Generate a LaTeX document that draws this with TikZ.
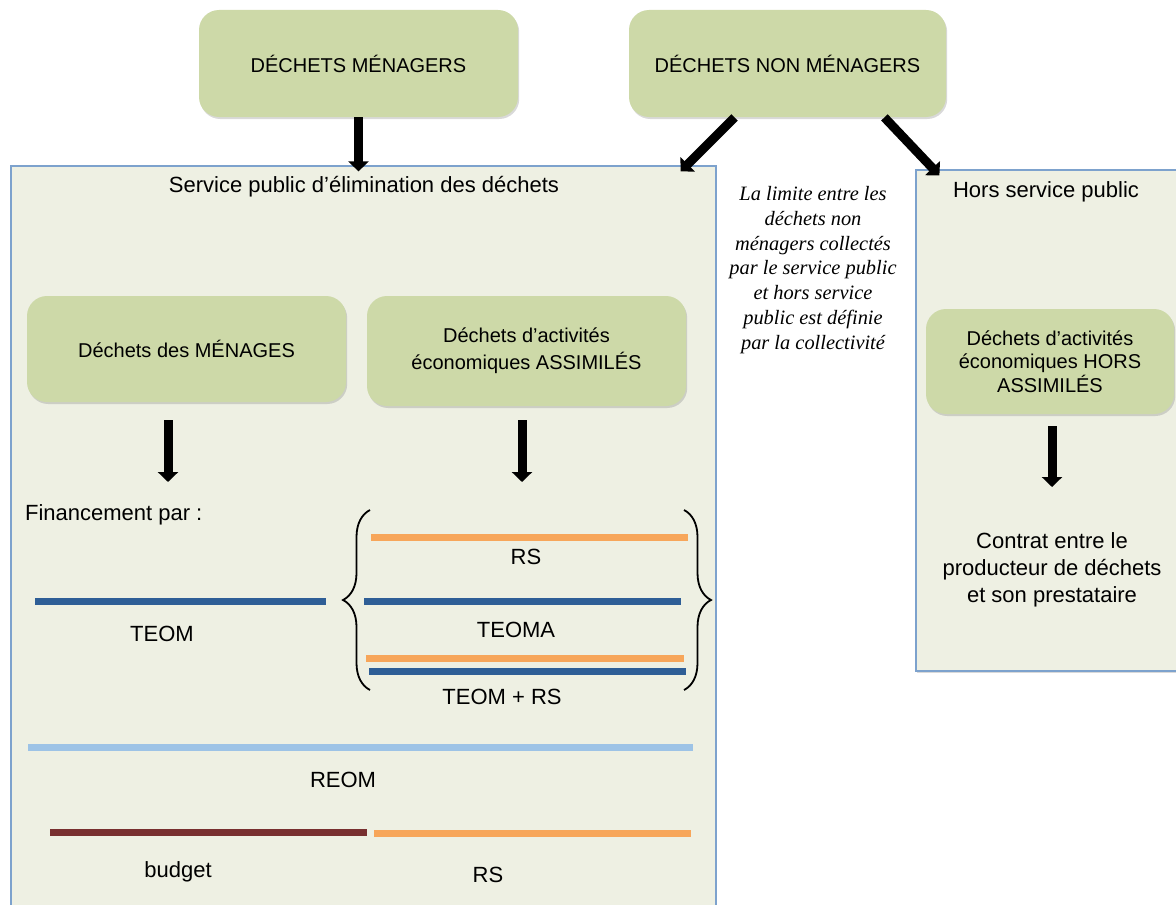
\documentclass[tikz,border=0pt]{standalone}
\usepackage{fontspec}
\setmainfont{Liberation Sans}
\newfontfamily\notefont{Liberation Serif}
\usetikzlibrary{arrows.meta,decorations.pathreplacing,shadows}

\definecolor{boxgreen}{RGB}{205,217,168}
\definecolor{panelbg}{RGB}{238,240,227}
\definecolor{panelline}{RGB}{125,162,205}
\definecolor{barblue}{RGB}{46,94,150}
\definecolor{barorange}{RGB}{247,166,90}
\definecolor{barlight}{RGB}{157,195,230}
\definecolor{barred}{RGB}{120,48,48}

\begin{document}
\begin{tikzpicture}[x=0.5pt,y=-0.5pt,
    font=\fontsize{11}{13.5}\selectfont,
    greenbox/.style={rounded corners=10pt,fill=boxgreen,align=center,inner sep=0pt,
        font=\fontsize{10}{13.5}\selectfont,
        drop shadow={opacity=0.3,shadow xshift=0.6pt,shadow yshift=-1pt}},
    panel/.style={fill=panelbg,draw=panelline,line width=0.6pt,inner sep=0pt,
        drop shadow={opacity=0.3,shadow xshift=0.6pt,shadow yshift=-1pt}},
    bigarrow/.style={-{Triangle[width=10pt,length=5pt]},line width=4.5pt},
    bar/.style={line width=3.5pt},
    curly/.style={decorate,decoration={brace,amplitude=13.5pt},line width=0.9pt}]
    \clip (0,0) rectangle (1176,904);
    % panels
    \node[panel,minimum width=352.5pt,minimum height=372pt] (spub) at (363.5,538) {};
    \node[panel,minimum width=135pt,minimum height=250.5pt] (hsp) at (1051,420.5) {};
    \node (spubtitle) at (364,187) {Service public d’élimination des déchets};
    \node (hsptitle) at (1046,192) {Hors service public};
    % green boxes
    \begin{scope}[every node/.style={greenbox}]
        \node[minimum width=159.5pt,minimum height=53.5pt] (dm) at (358.5,63.5) {DÉCHETS MÉNAGERS};
        \node[minimum width=158.5pt,minimum height=53.5pt] (dnm) at (787.5,63.5) {DÉCHETS NON MÉNAGERS};
        \node[minimum width=159.5pt,minimum height=53pt] (men) at (186.5,349) {Déchets des MÉNAGES};
        \node[minimum width=159.5pt,minimum height=55pt] (asm) at (526.5,351) {Déchets d’activités\\économiques ASSIMILÉS};
        \node[minimum width=124pt,minimum height=52.5pt,font=\fontsize{10}{11.8}\selectfont] (hors) at (1050,361.5) {Déchets d’activités\\économiques HORS\\ASSIMILÉS};
    \end{scope}
    \node[align=center,font=\notefont\itshape\fontsize{10.2}{12.35}\selectfont] (limit) at (813,270)
        {La limite entre les\\déchets non\\ménagers collectés\\par le service public\\et hors service\\public est définie\\par la collectivité};
    % arrows
    \coordinate (f1) at (168,482);
    \coordinate (f2) at (522,482);
    \coordinate (f3) at (1052,487);
    \draw (dm.south) edge[bigarrow] ([yshift=-3pt]dm.south |- spub.north);
    \draw ([xshift=53pt]dnm.south west) edge[bigarrow] ([xshift=-18pt,yshift=-3pt]spub.north east);
    \draw ([xshift=-31pt]dnm.south east) edge[bigarrow] ([xshift=12pt,yshift=-3pt]hsp.north west);
    \draw[bigarrow,shorten <=9pt] (f1 |- men.south) -- (f1);
    \draw[bigarrow,shorten <=7pt] (f2 |- asm.south) -- (f2);
    \draw[bigarrow,shorten <=6pt] (f3 |- hors.south) -- (f3);
    % financement
    \node[anchor=west] (fin) at (18,515) {Financement par :};
    \draw[bar,barorange] (371,537) -- (688,537);
    \node (rs1) at (526,557) {RS};
    \draw[bar,barblue] (35,601) -- (326,601);
    \node (teom) at (162,634) {TEOM};
    \draw[bar,barblue] (364,601) -- (681,601);
    \node (teoma) at (516,630) {TEOMA};
    \draw[bar,barorange] (366,658) -- (684,658);
    \draw[bar,barblue] (369,671) -- (686,671);
    \node (teomrs) at (502,697) {TEOM + RS};
    \draw[curly] (370,690) -- (370,510);
    \draw[curly] (684,510) -- (684,690);
    \draw[bar,barlight] (28,747) -- (693,747);
    \node (reom) at (343,780) {REOM};
    \draw[bar,barred] (50,832) -- (367,832);
    \draw[bar,barorange] (374,833) -- (691,833);
    \node (budget) at (178,872) {budget};
    \node (rs2) at (488,875) {RS};
    \node[align=center] (contrat) at (1052,570) {Contrat entre le\\producteur de déchets\\et son prestataire};
\end{tikzpicture}
\end{document}
